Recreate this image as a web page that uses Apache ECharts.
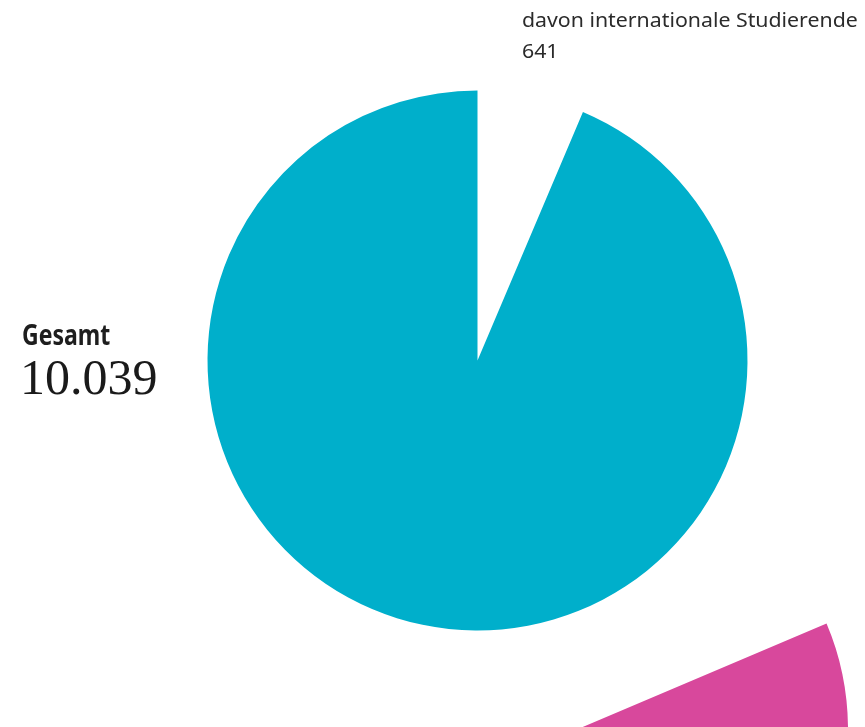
<!DOCTYPE html>
<html>
<head>
<meta charset="utf-8">
<script src="https://cdn.jsdelivr.net/npm/echarts@6/dist/echarts.min.js"></script>
<style>
html,body{margin:0;padding:0;background:#fff;}
#chart{width:865px;height:727px;}
</style>
</head>
<body>
<div id="chart"></div>
<script>
// Data
const categories = ['davon internationale Studierende', 'übrige Studierende'];
const values = [641, 9398];
const totalLabel = '10.039';
const subsetLabel = '641';
// Second (partly visible) pie at the bottom edge: hidden part, magenta slice, hidden rest
const secondPieCategories = ['leer', 'Anteil', 'Rest'];
const secondPieValues = [67, 113, 180];

const teal = '#00AFCB';
const magenta = '#D8489C';

const chart = echarts.init(document.getElementById('chart'), null, {renderer: 'canvas'});
chart.setOption({
  animation: false,
  backgroundColor: '#ffffff',
  series: [
    {
      type: 'pie',
      silent: true,
      center: [477.5, 360.5],
      radius: 270,
      startAngle: 90,
      clockwise: true,
      label: {show: false},
      labelLine: {show: false},
      emphasis: {disabled: true},
      itemStyle: {borderWidth: 0},
      data: categories.map((c, i) => ({
        name: c,
        value: values[i],
        itemStyle: {color: i === 0 ? 'rgba(255,255,255,0)' : teal}
      }))
    },
    {
      type: 'pie',
      silent: true,
      center: [578, 729],
      radius: 270,
      startAngle: 90,
      clockwise: true,
      label: {show: false},
      labelLine: {show: false},
      emphasis: {disabled: true},
      itemStyle: {borderWidth: 0},
      data: secondPieCategories.map((c, i) => ({
        name: c,
        value: secondPieValues[i],
        itemStyle: {color: i === 1 ? magenta : 'rgba(255,255,255,0)'}
      }))
    }
  ],
  graphic: [
    {
      type: 'text', left: 522, top: 11, scaleX: 1.065,
      style: {text: categories[0], font: '20px "Noto Sans", sans-serif', fill: '#2b2b2b'}
    },
    {
      type: 'text', left: 522, top: 42, scaleX: 1.065,
      style: {text: subsetLabel, font: '20px "Noto Sans", sans-serif', fill: '#2b2b2b'}
    },
    {
      type: 'text', left: 22, top: 322, scaleX: 0.795,
      style: {text: 'Gesamt', font: 'bold 29px "Noto Sans", sans-serif', fill: '#1e1e1e'}
    },
    {
      type: 'text', left: 20, top: 356,
      style: {text: totalLabel, font: '50px "Liberation Serif", "DejaVu Serif", serif', fill: '#1a1a1a'}
    }
  ]
});
</script>
</body>
</html>
